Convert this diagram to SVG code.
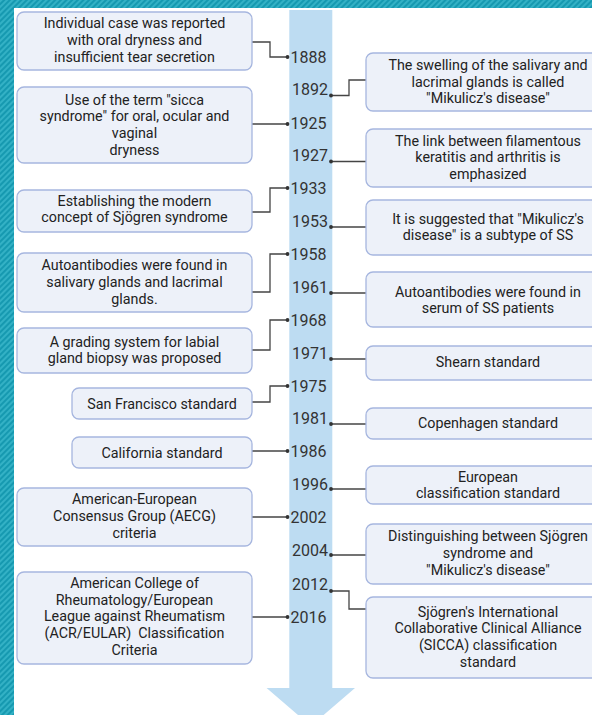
<svg xmlns="http://www.w3.org/2000/svg" width="592" height="715" viewBox="0 0 592 715">
  <defs>
    <pattern id="stripes" patternUnits="userSpaceOnUse" width="4" height="4" patternTransform="rotate(45)">
      <rect width="4" height="4" fill="#1699b0"/>
      <rect width="2" height="4" fill="#33b1c5"/>
    </pattern>
    <style>
      .box { fill: #edf1f9; stroke: #a6b6df; stroke-width: 1.3; }
      .label { font-family: Roboto, "Liberation Sans", Arial, sans-serif; font-size: 14.3px; fill: #222; text-anchor: middle; }
      .year { font-family: Roboto, "Liberation Sans", Arial, sans-serif; font-size: 16px; fill: #333; }
      .year.r { text-anchor: end; }
      .conn { fill: none; stroke: #444; stroke-width: 1.3; }
      .dot { fill: #333; }
    </style>
  </defs>

  <!-- frame -->
  <rect width="592" height="715" fill="url(#stripes)"/>
  <rect x="14" y="8" width="578" height="707" fill="#ffffff"/>

  <!-- timeline arrow -->
  <g id="timeline">
    <path d="M289.3,10 H332.3 V688 H355 L310.8,726 L266.6,688 H289.3 Z" fill="#bddcf2"/>
    <text class="year" x="290.5" y="63">1888</text>
    <text class="year r" x="328" y="95">1892</text>
    <text class="year" x="290.5" y="129">1925</text>
    <text class="year r" x="328" y="161">1927</text>
    <text class="year" x="290.5" y="194">1933</text>
    <text class="year r" x="328" y="227">1953</text>
    <text class="year" x="290.5" y="260">1958</text>
    <text class="year r" x="328" y="293">1961</text>
    <text class="year" x="290.5" y="326">1968</text>
    <text class="year r" x="328" y="359">1971</text>
    <text class="year" x="290.5" y="392">1975</text>
    <text class="year r" x="328" y="424">1981</text>
    <text class="year" x="290.5" y="457">1986</text>
    <text class="year r" x="328" y="490">1996</text>
    <text class="year" x="290.5" y="523">2002</text>
    <text class="year r" x="328" y="556">2004</text>
    <text class="year r" x="328" y="590">2012</text>
    <text class="year" x="290.5" y="623">2016</text>
  </g>

  <!-- connectors -->
  <g id="connectors">
    <path class="conn" d="M252,42 H270 V57 H287.5"/>
    <path class="conn" d="M331,95.5 H349 V80 H366"/>
    <path class="conn" d="M252,124 H287.5"/>
    <path class="conn" d="M331,161.5 H366"/>
    <path class="conn" d="M252,212 H270 V188 H287.5"/>
    <path class="conn" d="M331,227 H366"/>
    <path class="conn" d="M252,292 H270 V254 H287.5"/>
    <path class="conn" d="M331,293 H366"/>
    <path class="conn" d="M252,350 H270 V320 H287.5"/>
    <path class="conn" d="M331,359 H366"/>
    <path class="conn" d="M252,402 H270 V386 H287.5"/>
    <path class="conn" d="M331,424 H366"/>
    <path class="conn" d="M252,451 H287.5"/>
    <path class="conn" d="M331,489 H366"/>
    <path class="conn" d="M252,517 H287.5"/>
    <path class="conn" d="M331,555 H366"/>
    <path class="conn" d="M331,591 H349 V609 H366"/>
    <path class="conn" d="M252,617 H287.5"/>
    <circle class="dot" cx="287.5" cy="57" r="1.9"/>
    <circle class="dot" cx="331" cy="95.5" r="1.9"/>
    <circle class="dot" cx="287.5" cy="124" r="1.9"/>
    <circle class="dot" cx="331" cy="161.5" r="1.9"/>
    <circle class="dot" cx="287.5" cy="188" r="1.9"/>
    <circle class="dot" cx="331" cy="227" r="1.9"/>
    <circle class="dot" cx="287.5" cy="254" r="1.9"/>
    <circle class="dot" cx="331" cy="293" r="1.9"/>
    <circle class="dot" cx="287.5" cy="320" r="1.9"/>
    <circle class="dot" cx="331" cy="359" r="1.9"/>
    <circle class="dot" cx="287.5" cy="386" r="1.9"/>
    <circle class="dot" cx="331" cy="424" r="1.9"/>
    <circle class="dot" cx="287.5" cy="451" r="1.9"/>
    <circle class="dot" cx="331" cy="489" r="1.9"/>
    <circle class="dot" cx="287.5" cy="517" r="1.9"/>
    <circle class="dot" cx="331" cy="555" r="1.9"/>
    <circle class="dot" cx="331" cy="591" r="1.9"/>
    <circle class="dot" cx="287.5" cy="617" r="1.9"/>
  </g>

  <!-- events, left column -->
  <g id="e1888">
    <rect class="box" x="17" y="12" width="235" height="58" rx="7"/>
    <text class="label" x="134.5" y="28.3">Individual case was reported</text>
    <text class="label" x="134.5" y="45">with oral dryness and</text>
    <text class="label" x="134.5" y="61.7">insufficient tear secretion</text>
  </g>
  <g id="e1925">
    <rect class="box" x="17" y="87" width="235" height="76" rx="7"/>
    <text class="label" x="134.5" y="104.5">Use of the term "sicca</text>
    <text class="label" x="134.5" y="121.2">syndrome" for oral, ocular and</text>
    <text class="label" x="134.5" y="137.9">vaginal</text>
    <text class="label" x="134.5" y="154.6">dryness</text>
  </g>
  <g id="e1933">
    <rect class="box" x="17" y="190" width="235" height="42" rx="7"/>
    <text class="label" x="134.5" y="205.6">Establishing the modern</text>
    <text class="label" x="134.5" y="222.3">concept of Sjögren syndrome</text>
  </g>
  <g id="e1958">
    <rect class="box" x="17" y="253" width="235" height="59" rx="7"/>
    <text class="label" x="134.5" y="270.3">Autoantibodies were found in</text>
    <text class="label" x="134.5" y="287">salivary glands and lacrimal</text>
    <text class="label" x="134.5" y="303.7">glands.</text>
  </g>
  <g id="e1968">
    <rect class="box" x="17" y="328" width="235" height="45" rx="7"/>
    <text class="label" x="134.5" y="346.6">A grading system for labial</text>
    <text class="label" x="134.5" y="363.3">gland biopsy was proposed</text>
  </g>
  <g id="e1975">
    <rect class="box" x="72" y="388" width="180" height="31" rx="7"/>
    <text class="label" x="162" y="409">San Francisco standard</text>
  </g>
  <g id="e1986">
    <rect class="box" x="72" y="437" width="180" height="31" rx="7"/>
    <text class="label" x="162" y="458">California standard</text>
  </g>
  <g id="e2002">
    <rect class="box" x="17" y="488" width="235" height="58" rx="7"/>
    <text class="label" x="134.5" y="504.3">American-European</text>
    <text class="label" x="134.5" y="521">Consensus Group (AECG)</text>
    <text class="label" x="134.5" y="537.7">criteria</text>
  </g>
  <g id="e2016">
    <rect class="box" x="17" y="572" width="235" height="92" rx="7"/>
    <text class="label" x="134.5" y="587.9">American College of</text>
    <text class="label" x="134.5" y="604.6">Rheumatology/European</text>
    <text class="label" x="134.5" y="621.3">League against Rheumatism</text>
    <text class="label" x="134.5" y="638" style="white-space:pre">(ACR/EULAR)  Classification</text>
    <text class="label" x="134.5" y="654.7">Criteria</text>
  </g>

  <!-- events, right column -->
  <g id="e1892">
    <rect class="box" x="366" y="53" width="244" height="58" rx="7"/>
    <text class="label" x="488" y="69.8">The swelling of the salivary and</text>
    <text class="label" x="488" y="86.5">lacrimal glands is called</text>
    <text class="label" x="488" y="103.2">"Mikulicz's disease"</text>
  </g>
  <g id="e1927">
    <rect class="box" x="366" y="129" width="244" height="58" rx="7"/>
    <text class="label" x="488" y="145.6">The link between filamentous</text>
    <text class="label" x="488" y="162.3">keratitis and arthritis is</text>
    <text class="label" x="488" y="179">emphasized</text>
  </g>
  <g id="e1953">
    <rect class="box" x="366" y="200" width="244" height="55" rx="7"/>
    <text class="label" x="488" y="223.6">It is suggested that "Mikulicz's</text>
    <text class="label" x="488" y="240.3">disease" is a subtype of SS</text>
  </g>
  <g id="e1961">
    <rect class="box" x="366" y="272" width="244" height="55" rx="7"/>
    <text class="label" x="488" y="296.6">Autoantibodies were found in</text>
    <text class="label" x="488" y="313.3">serum of SS patients</text>
  </g>
  <g id="e1971">
    <rect class="box" x="366" y="346" width="244" height="34" rx="7"/>
    <text class="label" x="488" y="367">Shearn standard</text>
  </g>
  <g id="e1981">
    <rect class="box" x="366" y="408" width="244" height="31" rx="7"/>
    <text class="label" x="488" y="428">Copenhagen standard</text>
  </g>
  <g id="e1996">
    <rect class="box" x="366" y="466" width="244" height="38" rx="7"/>
    <text class="label" x="488" y="481.6">European</text>
    <text class="label" x="488" y="498.3">classification standard</text>
  </g>
  <g id="e2004">
    <rect class="box" x="366" y="524" width="244" height="60" rx="7"/>
    <text class="label" x="488" y="541">Distinguishing between Sjögren</text>
    <text class="label" x="488" y="558">syndrome and</text>
    <text class="label" x="488" y="575">"Mikulicz's disease"</text>
  </g>
  <g id="e2012">
    <rect class="box" x="366" y="597" width="244" height="81" rx="7"/>
    <text class="label" x="488" y="616.7">Sjögren's International</text>
    <text class="label" x="488" y="633.4">Collaborative Clinical Alliance</text>
    <text class="label" x="488" y="650.1">(SICCA) classification</text>
    <text class="label" x="488" y="666.8">standard</text>
  </g>
</svg>
